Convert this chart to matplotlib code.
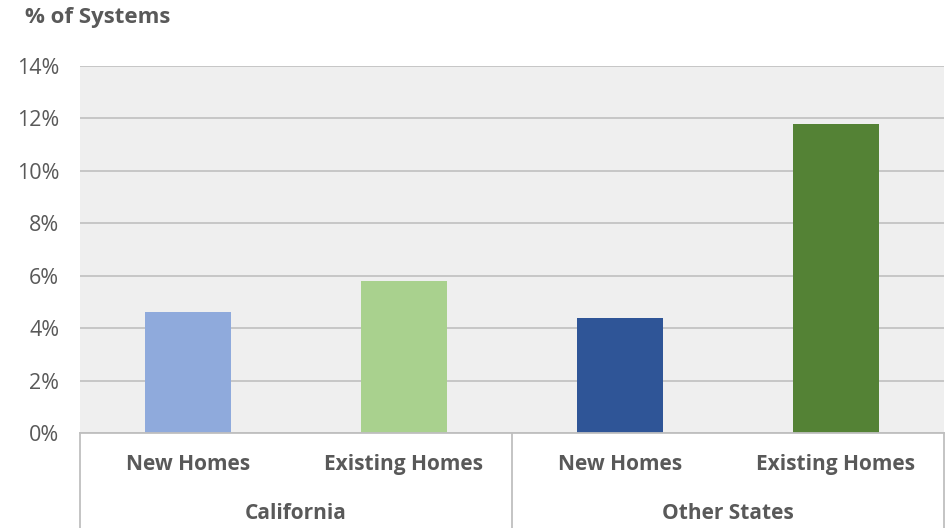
import matplotlib.pyplot as plt

plt.rcParams['font.family'] = ['Open Sans', 'DejaVu Sans']

# Values (% of systems)
groups = ["California", "Other States"]
categories = ["New Homes", "Existing Homes", "New Homes", "Existing Homes"]
values = [4.6, 5.8, 4.4, 11.8]
colors = ["#8faadc", "#a9d18e", "#2f5597", "#548235"]
yticks = [0, 2, 4, 6, 8, 10, 12, 14]

W, H = 949, 528
fig = plt.figure(figsize=(W / 100, H / 100), dpi=100)
ax = fig.add_axes([80 / W, (H - 433) / H, (944 - 80) / W, (433 - 66) / H])
ax.set_facecolor("#efefef")

x = list(range(len(values)))
ax.bar(x, values, width=0.4, color=colors, zorder=3)

ax.set_xlim(-0.5, len(values) - 0.5)
ax.set_ylim(0, 14)
ax.set_yticks(yticks)
ax.set_yticklabels([f"{t}%" for t in yticks], fontsize=15.5, color="#595959")
ax.set_xticks([])
ax.tick_params(axis="y", length=0, pad=15)
ax.yaxis.grid(True, color="#c0c0c0", linewidth=1.2, zorder=0)
for s in ax.spines.values():
    s.set_visible(False)

# category box below the axis
trans = ax.get_xaxis_transform()
gray = "#bfbfbf"
ax.plot([-0.5, 3.5], [0, 0], color=gray, lw=1.3, transform=trans, clip_on=False, zorder=4)
bottom = -(H - 433) / (433 - 66)
for xv in [-0.5, 1.5, 3.5]:
    ax.plot([xv, xv], [0, bottom], color=gray, lw=1.3, transform=trans, clip_on=False)

for xi, lab in zip(x, categories):
    ax.text(xi, -0.087, lab, transform=trans, ha="center", va="center",
            fontsize=15, fontweight="bold", color="#595959")
for gi, g in enumerate(groups):
    ax.text(gi * 2 + 0.5, -0.218, g, transform=trans, ha="center", va="center",
            fontsize=15, fontweight="bold", color="#595959")

fig.text(25 / W, 1 - 18 / H, "% of Systems", ha="left", va="center",
         fontsize=16, fontweight="bold", color="#595959")

fig.savefig("out.png", dpi=100)
